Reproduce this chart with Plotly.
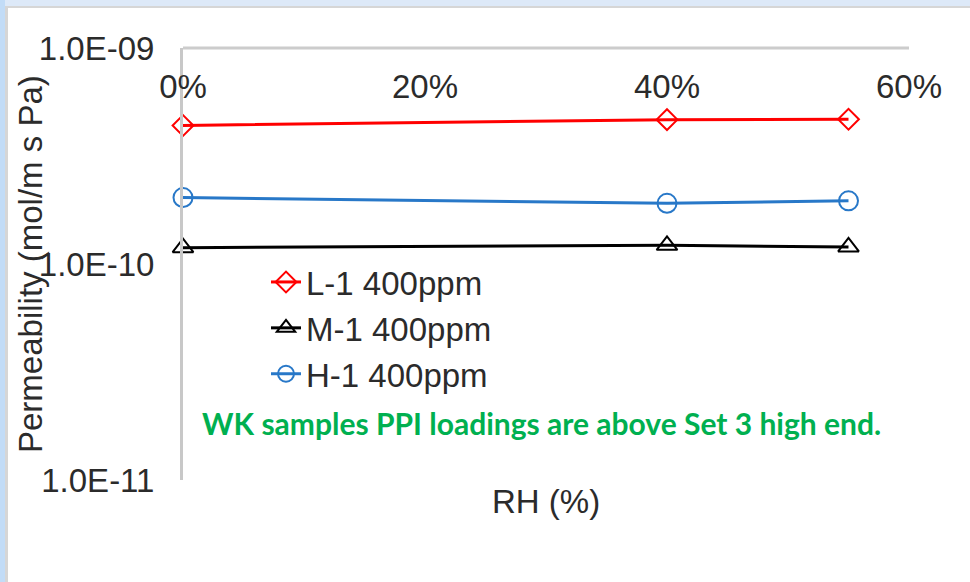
import plotly.graph_objects as go

# Relative humidity (fraction) and measured permeability for each sample
rh = [0.0, 0.40, 0.55]
l1_400ppm = [4.38e-10, 4.66e-10, 4.68e-10]
m1_400ppm = [1.19e-10, 1.22e-10, 1.20e-10]
h1_400ppm = [2.03e-10, 1.91e-10, 1.96e-10]

x_tickvals = [0.0, 0.2, 0.4, 0.6]
x_ticktext = ["0%", "20%", "40%", "60%"]
y_tickvals = [1e-11, 1e-10, 1e-9]
y_ticktext = ["1.0E-11", "1.0E-10", "1.0E-09"]

W, H = 970, 582
L, R, T, B = 183, 61, 48, 102
PW, PH = W - L - R, H - T - B


def px_x(px):
    return (px - L) / PW


def px_y(py):
    return (H - B - py) / PH


FONT = "Liberation Sans, Arial, sans-serif"
TXT = "#2b2b2b"

fig = go.Figure()

series = [
    ("L-1 400ppm", l1_400ppm, "#ff0000", "diamond-open", 16),
    ("M-1 400ppm", m1_400ppm, "#000000", "triangle-up-open", 18),
    ("H-1 400ppm", h1_400ppm, "#2878c8", "circle-open", 19),
]
for name, vals, col, sym, size in series:
    fig.add_trace(go.Scatter(
        x=rh, y=vals, name=name, mode="lines+markers",
        line=dict(color=col, width=3),
        marker=dict(symbol=sym, size=size, color=col, line=dict(color=col, width=2)),
        cliponaxis=False,
    ))

fig.update_layout(
    width=W, height=H,
    margin=dict(l=L, r=R, t=T, b=B),
    paper_bgcolor="white", plot_bgcolor="white",
    font=dict(family=FONT, color=TXT, size=33),
    xaxis=dict(
        range=[0, 0.6], side="bottom", anchor="free", position=px_y(64),
        tickvals=x_tickvals, ticktext=x_ticktext, ticks="",
        showgrid=False, zeroline=False, showline=False,
        tickfont=dict(size=33, color=TXT),
    ),
    yaxis=dict(
        type="log", range=[-11, -9],
        tickvals=y_tickvals, ticktext=y_ticktext, ticks="",
        ticklabelstandoff=19,
        showgrid=False, zeroline=False,
        showline=True, linecolor="#c8c8c8", linewidth=3,
        tickfont=dict(size=33, color=TXT),
    ),
    showlegend=True,
    legend=dict(
        x=px_x(266), y=px_y(254), xanchor="left", yanchor="top",
        bgcolor="rgba(0,0,0,0)", font=dict(size=33, color=TXT),
        tracegroupgap=0, itemsizing="trace",
    ),
)

# top horizontal axis line
fig.add_shape(type="line", xref="x domain", yref="y domain", x0=0, x1=1, y0=1, y1=1,
              line=dict(color="#cccccc", width=3), layer="below")

# window frame bands
fig.add_shape(type="rect", xref="paper", yref="paper",
              x0=px_x(0), x1=px_x(W), y0=px_y(0), y1=px_y(6),
              fillcolor="#dde9f8", line=dict(width=0), layer="above")
fig.add_shape(type="rect", xref="paper", yref="paper",
              x0=px_x(5), x1=px_x(W), y0=px_y(6), y1=px_y(8),
              fillcolor="#d6d6d6", line=dict(width=0), layer="above")
fig.add_shape(type="rect", xref="paper", yref="paper",
              x0=px_x(0), x1=px_x(5), y0=px_y(0), y1=px_y(H),
              fillcolor="#c2dcf7", line=dict(width=0), layer="above")
fig.add_shape(type="rect", xref="paper", yref="paper",
              x0=px_x(5), x1=px_x(8), y0=px_y(8), y1=px_y(H),
              fillcolor="#d6d6d6", line=dict(width=0), layer="above")

# axis titles
fig.add_annotation(text="RH (%)", xref="paper", yref="paper",
                   x=px_x(546), y=px_y(501), xanchor="center", yanchor="middle",
                   showarrow=False, font=dict(size=33, color=TXT, family=FONT))
fig.add_annotation(text="Permeability (mol/m s Pa)", xref="paper", yref="paper",
                   x=px_x(30), y=px_y(264), xanchor="center", yanchor="middle",
                   showarrow=False, textangle=-90,
                   font=dict(size=33, color=TXT, family=FONT))

# note
fig.add_annotation(text="<b>WK samples PPI loadings are above Set 3 high end.</b>",
                   xref="paper", yref="paper", x=px_x(541), y=px_y(423),
                   xanchor="center", yanchor="middle", showarrow=False,
                   font=dict(size=30, color="#00b050", family="Lato, Carlito, sans-serif"))

fig.write_html("out.html")
